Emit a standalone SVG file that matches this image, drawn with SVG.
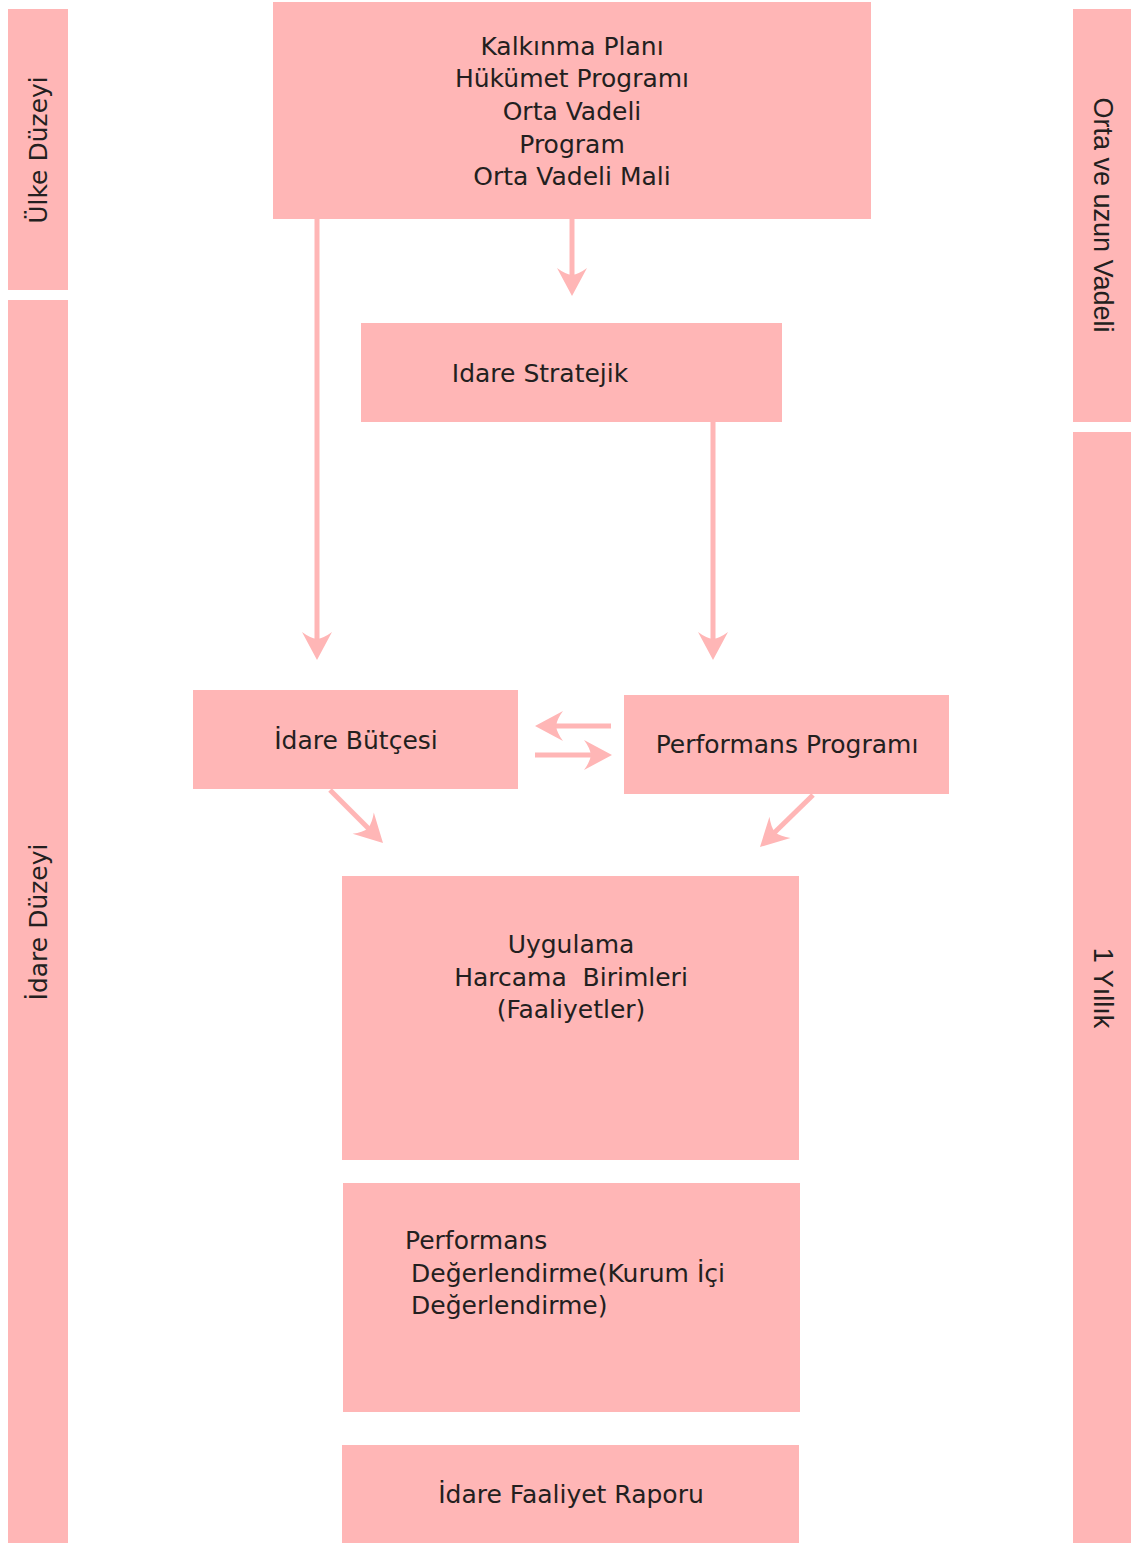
<svg xmlns="http://www.w3.org/2000/svg" width="1131" height="1543" viewBox="0 0 1131 1543">
<style>
.box{fill:#FFB6B6;}
.t{font-family:"DejaVu Sans","Noto Sans",sans-serif;font-size:25px;fill:#231F20;}
.s{font-family:"DejaVu Sans","Noto Sans",sans-serif;font-size:25px;fill:#231F20;}
.r{font-family:"Liberation Sans",Arial,sans-serif;font-size:27px;fill:#231F20;}
.c{fill:none;stroke:#FFB6B6;stroke-width:5;}
.h{fill:#FFB6B6;}
</style>
<defs>
<path id="head" d="M0,0 L-28,-15 Q-22,-7 -21,0 Q-22,7 -28,15 Z"/>
</defs>
<rect width="1131" height="1543" fill="#FFFFFF"/>
<g id="side-ulke"><rect class="box" x="8" y="9" width="60" height="281"/><text class="s" transform="translate(47,150) rotate(-90)" text-anchor="middle">Ülke Düzeyi</text></g>
<g id="side-idare"><rect class="box" x="8" y="300" width="60" height="1243"/><text class="s" transform="translate(47,922) rotate(-90)" text-anchor="middle">İdare Düzeyi</text></g>
<g id="side-orta"><rect class="box" x="1073" y="9" width="58" height="413"/><text class="r" transform="translate(1094,215) rotate(90)" text-anchor="middle">Orta ve uzun Vadeli</text></g>
<g id="side-yillik"><rect class="box" x="1073" y="432" width="58" height="1111"/><text class="r" transform="translate(1094,988) rotate(90)" text-anchor="middle">1 Yıllık</text></g>
<g id="connectors">
<line class="c" x1="572" y1="219" x2="572" y2="276"/><use href="#head" class="h" transform="translate(572,296) rotate(90)"/>
<line class="c" x1="317" y1="219" x2="317" y2="640"/><use href="#head" class="h" transform="translate(317,660) rotate(90)"/>
<line class="c" x1="713" y1="422" x2="713" y2="640"/><use href="#head" class="h" transform="translate(713,660) rotate(90)"/>
<line class="c" x1="611" y1="726" x2="555" y2="726"/><use href="#head" class="h" transform="translate(535,726) rotate(180)"/>
<line class="c" x1="535" y1="755" x2="592" y2="755"/><use href="#head" class="h" transform="translate(612,755)"/>
<line class="c" x1="330" y1="790" x2="369" y2="829"/><use href="#head" class="h" transform="translate(383,843) rotate(45)"/>
<line class="c" x1="813" y1="795" x2="774" y2="833"/><use href="#head" class="h" transform="translate(760,847) rotate(135.5)"/>
</g>
<g id="plan"><rect class="box" x="273" y="2" width="598" height="217"/>
<text class="t" text-anchor="middle"><tspan x="572" y="55">Kalkınma Planı</tspan><tspan x="572" y="87">Hükümet Programı</tspan><tspan x="572" y="120">Orta Vadeli</tspan><tspan x="572" y="153">Program</tspan><tspan x="572" y="185">Orta Vadeli Mali</tspan></text></g>
<g id="stratejik"><rect class="box" x="361" y="323" width="421" height="99"/><text class="t" x="540" y="382" text-anchor="middle">Idare Stratejik</text></g>
<g id="butce"><rect class="box" x="193" y="690" width="325" height="99"/><text class="t" x="356" y="749" text-anchor="middle">İdare Bütçesi</text></g>
<g id="performans-programi"><rect class="box" x="624" y="695" width="325" height="99"/><text class="t" x="787" y="753" text-anchor="middle">Performans Programı</text></g>
<g id="uygulama"><rect class="box" x="342" y="876" width="457" height="284"/>
<text class="t" text-anchor="middle"><tspan x="571" y="953">Uygulama</tspan><tspan x="571" y="986">Harcama&#160; Birimleri</tspan><tspan x="571" y="1018">(Faaliyetler)</tspan></text></g>
<g id="degerlendirme"><rect class="box" x="343" y="1183" width="457" height="229"/>
<text class="t"><tspan x="405" y="1249">Performans</tspan><tspan x="411" y="1282">Değerlendirme(Kurum İçi</tspan><tspan x="411" y="1314">Değerlendirme)</tspan></text></g>
<g id="rapor"><rect class="box" x="342" y="1445" width="457" height="98"/><text class="t" x="571" y="1503" text-anchor="middle">İdare Faaliyet Raporu</text></g>
</svg>
